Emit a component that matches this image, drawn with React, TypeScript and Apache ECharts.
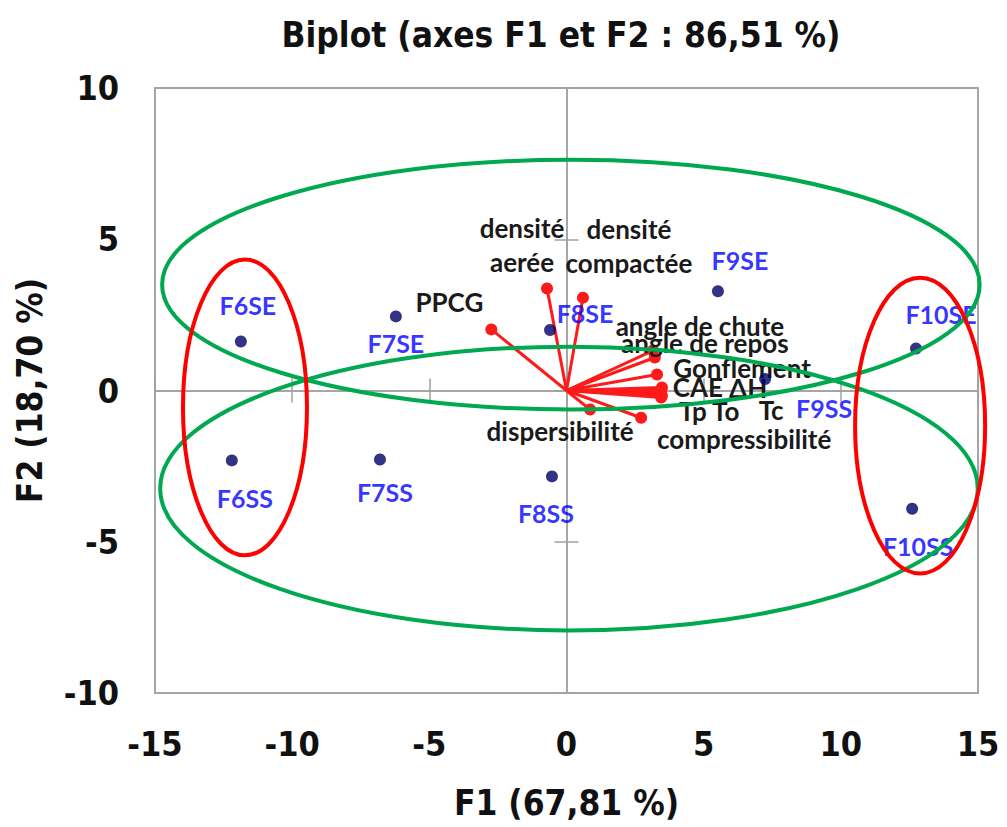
import React, { useEffect, useRef } from "react";
import * as echarts from "echarts";

// Observations (individuals)
const obsNames = ["F6SE", "F6SS", "F7SE", "F7SS", "F8SE", "F8SS", "F9SE", "F9SS", "F10SE", "F10SS"];
const obsF1 = [-11.87, -12.2, -6.22, -6.8, -0.6, -0.53, 5.52, 7.24, 12.74, 12.6];
const obsF2 = [1.62, -2.31, 2.45, -2.28, 2.0, -2.84, 3.28, 0.38, 1.39, -3.91];

// Variables (arrows)
const varNames = [
  "PPCG", "densité\naerée", "densité\ncompactée", "angle de chute", "angle de repos",
  "Gonflement", "CAE", "ΔH", "Tp", "To", "Tc", "compressibilité", "dispersibilité",
];
const varF1 = [-2.74, -0.71, 0.6, 3.15, 3.22, 3.3, 3.48, 3.45, 3.48, 3.4, 3.45, 2.72, 0.86];
const varF2 = [2.02, 3.37, 3.07, 1.32, 1.09, 0.53, 0.1, 0.0, -0.17, -0.1, -0.23, -0.9, -0.63];

// Ellipses: [centre F1, centre F2, radius F1, radius F2]
const greenEllipses = [
  [0.16, 3.5, 14.9, 4.13],
  [0.09, -3.24, 14.9, 4.69],
];
const redEllipses = [
  [-11.72, -0.56, 2.26, 4.89],
  [12.89, -1.16, 2.37, 4.89],
];

const xTicks = { min: -15, max: 15, interval: 5 };
const yTicks = { min: -10, max: 10, interval: 5 };

// label offsets (pixels) relative to the marks
const obsLabelOffsets: number[][] = [
  [7, -36], [13, 38], [0, 27], [5, 33], [35, -17], [-6, 37], [22, -31], [59, 29], [25, -34], [6, 37],
];
const varLabelOffsets: number[][] = [
  [-42, -27], [-25, -44], [46, -52], [47, -25], [50, -15], [85, -6], [36, 0], [87, -3],
  [31, 15], [66, 17], [110, 13], [103, 21], [-30, 21],
];

const FONT = "'Liberation Sans Narrow', 'DejaVu Sans Condensed', 'Roboto', sans-serif";
const LFONT = "Lato, 'Open Sans', sans-serif";

export default function App() {
  const ref = useRef<HTMLDivElement>(null);
  useEffect(() => {
    if (!ref.current) return;
    const chart = echarts.init(ref.current, undefined, { renderer: "svg" });
    const gridRect = { left: 155, top: 88, width: 823, height: 605 };

    const ellipseSeries = (data: number[][], color: string) => ({
      type: "custom",
      xAxisIndex: 0,
      yAxisIndex: 0,
      silent: true,
      clip: false,
      z: 10,
      encode: { x: 0, y: 1 },
      data,
      renderItem: (params: any, api: any) => {
        const c = api.coord([api.value(0), api.value(1)]);
        const s = api.size([api.value(2), api.value(3)]);
        return {
          type: "ellipse",
          shape: { cx: c[0], cy: c[1], rx: s[0], ry: s[1] },
          style: { fill: "none", stroke: color, lineWidth: 4 },
        };
      },
    });

    const arrowSeries = varNames.map((name, i) => ({
      type: "line",
      name,
      xAxisIndex: 0,
      yAxisIndex: 0,
      z: 4,
      lineStyle: { color: "#ff1a1a", width: 3 },
      itemStyle: { color: "#ff1a1a" },
      symbolSize: 12,
      showSymbol: true,
      data: [
        { value: [0, 0], symbol: "none", label: { show: false } },
        {
          value: [varF1[i], varF2[i]],
          symbol: "circle",
          label: {
            show: true,
            position: "inside",
            offset: varLabelOffsets[i],
            formatter: name,
            color: "#1a1a1a",
            fontFamily: LFONT,
            fontWeight: "bold",
            fontSize: 26,
            lineHeight: 34,
            align: "center",
          },
        },
      ],
    }));

    const option: any = {
      animation: false,
      backgroundColor: "#ffffff",
      title: {
        text: "Biplot (axes F1 et F2 : 86,51 %)",
        left: 556,
        top: 12,
        textAlign: "center",
        textStyle: { fontFamily: FONT, fontWeight: "bold", fontSize: 35, color: "#111" },
      },
      grid: [
        { ...gridRect, show: true, borderColor: "#a6a6a6", borderWidth: 2, backgroundColor: "transparent" },
        { ...gridRect, show: false },
      ],
      xAxis: [
        {
          type: "value", gridIndex: 0, position: "bottom", ...xTicks,
          axisLine: { show: false, onZero: false }, axisTick: { show: false }, splitLine: { show: false },
          axisLabel: { margin: 34, fontFamily: FONT, fontWeight: "bold", fontSize: 34, color: "#111" },
          name: "F1 (67,81 %)", nameLocation: "middle", nameGap: 92,
          nameTextStyle: { fontFamily: FONT, fontWeight: "bold", fontSize: 35, color: "#111" },
        },
        {
          type: "value", gridIndex: 1, position: "bottom", ...xTicks,
          axisLine: { show: true, onZero: true, lineStyle: { color: "#a0a0a0", width: 1.5 } },
          axisTick: { show: true, length: 12, lineStyle: { color: "#a0a0a0", width: 1.5 } },
          axisLabel: { show: false }, splitLine: { show: false },
        },
        {
          type: "value", gridIndex: 1, position: "top", ...xTicks,
          axisLine: { show: true, onZero: true, lineStyle: { color: "#a0a0a0", width: 1.5 } },
          axisTick: { show: true, length: 12, lineStyle: { color: "#a0a0a0", width: 1.5 } },
          axisLabel: { show: false }, splitLine: { show: false },
        },
      ],
      yAxis: [
        {
          type: "value", gridIndex: 0, position: "left", ...yTicks,
          axisLine: { show: false, onZero: false }, axisTick: { show: false }, splitLine: { show: false },
          axisLabel: { margin: 36, fontFamily: FONT, fontWeight: "bold", fontSize: 34, color: "#111" },
          name: "F2 (18,70 %)", nameLocation: "middle", nameGap: 108, nameRotate: 90,
          nameTextStyle: { fontFamily: FONT, fontWeight: "bold", fontSize: 35, color: "#111" },
        },
        {
          type: "value", gridIndex: 1, position: "left", ...yTicks,
          axisLine: { show: true, onZero: true, lineStyle: { color: "#a0a0a0", width: 1.5 } },
          axisTick: { show: true, length: 12, lineStyle: { color: "#a0a0a0", width: 1.5 } },
          axisLabel: { show: false }, splitLine: { show: false },
        },
        {
          type: "value", gridIndex: 1, position: "right", ...yTicks,
          axisLine: { show: true, onZero: true, lineStyle: { color: "#a0a0a0", width: 1.5 } },
          axisTick: { show: true, length: 12, lineStyle: { color: "#a0a0a0", width: 1.5 } },
          axisLabel: { show: false }, splitLine: { show: false },
        },
      ],
      series: [
        ...arrowSeries,
        {
          type: "scatter",
          name: "Observations",
          xAxisIndex: 0,
          yAxisIndex: 0,
          z: 5,
          symbolSize: 12,
          itemStyle: { color: "#000066" },
          data: obsNames.map((n, i) => ({
            value: [obsF1[i], obsF2[i]],
            name: n,
            label: {
              show: true,
              position: "inside",
              offset: obsLabelOffsets[i],
              formatter: n,
              color: "#0000ff",
              fontFamily: LFONT,
              fontWeight: "bold",
              fontSize: 25,
            },
          })),
        },
        ellipseSeries(greenEllipses, "#00a84f"),
        ellipseSeries(redEllipses, "#ff0000"),
      ],
    };
    chart.setOption(option);
    return () => chart.dispose();
  }, []);
  return (
    <div
      ref={ref}
      style={{ position: "fixed", left: 0, top: 0, width: 1007, height: 827, background: "#fff" }}
    />
  );
}
